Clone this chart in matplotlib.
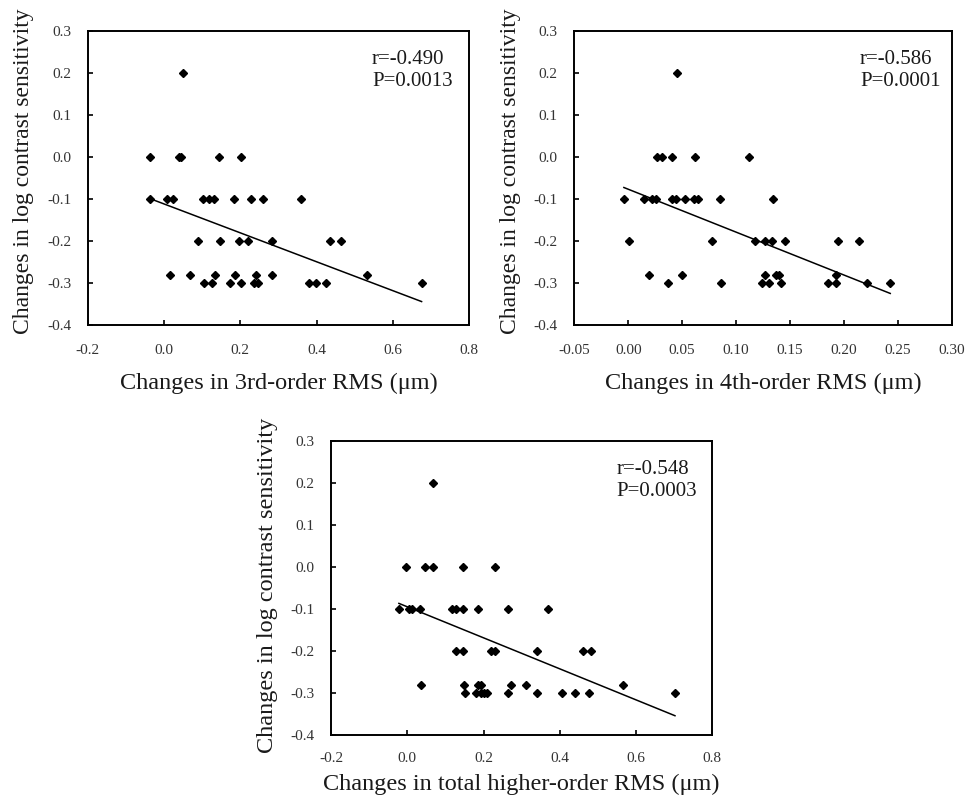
import matplotlib
matplotlib.use("Agg")
import matplotlib.pyplot as plt
import numpy as np
from matplotlib.ticker import FormatStrFormatter

plt.rcParams['font.family'] = ['Liberation Serif', 'DejaVu Serif']
plt.rcParams['axes.unicode_minus'] = False

# ---------------- datos ----------------
# panel 1: 3rd-order RMS
x_3rd = [0.051,
         -0.038, 0.040, 0.044, 0.143, 0.201,
         -0.037, 0.009, 0.024, 0.103, 0.117, 0.131, 0.183, 0.228, 0.259, 0.360,
         0.090, 0.147, 0.196, 0.219, 0.282, 0.435, 0.465,
         0.016, 0.068, 0.133, 0.185, 0.241, 0.282, 0.531,
         0.105, 0.125, 0.174, 0.201, 0.235, 0.247, 0.379, 0.397, 0.425, 0.675]
y_3rd = [0.20,
         0.0, 0.0, 0.0, 0.0, 0.0,
         -0.1, -0.1, -0.1, -0.1, -0.1, -0.1, -0.1, -0.1, -0.1, -0.1,
         -0.2, -0.2, -0.2, -0.2, -0.2, -0.2, -0.2,
         -0.28, -0.28, -0.28, -0.28, -0.28, -0.28, -0.28,
         -0.3, -0.3, -0.3, -0.3, -0.3, -0.3, -0.3, -0.3, -0.3, -0.3]

# panel 2: 4th-order RMS
x_4th = [0.045,
         0.027, 0.031, 0.041, 0.062, 0.112,
         -0.004, 0.015, 0.022, 0.026, 0.041, 0.044, 0.053, 0.061, 0.065, 0.085, 0.134,
         0.001, 0.078, 0.118, 0.127, 0.133, 0.145, 0.195, 0.214,
         0.019, 0.050, 0.127, 0.137, 0.140, 0.193,
         0.037, 0.086, 0.124, 0.131, 0.142, 0.185, 0.193, 0.221, 0.243]
y_4th = [0.20,
         0.0, 0.0, 0.0, 0.0, 0.0,
         -0.1, -0.1, -0.1, -0.1, -0.1, -0.1, -0.1, -0.1, -0.1, -0.1, -0.1,
         -0.2, -0.2, -0.2, -0.2, -0.2, -0.2, -0.2, -0.2,
         -0.28, -0.28, -0.28, -0.28, -0.28, -0.28,
         -0.3, -0.3, -0.3, -0.3, -0.3, -0.3, -0.3, -0.3, -0.3]

# panel 3: total higher-order RMS
x_total = [0.067,
           -0.003, 0.046, 0.067, 0.146, 0.229,
           -0.022, 0.004, 0.013, 0.033, 0.117, 0.128, 0.146, 0.185, 0.264, 0.370,
           0.129, 0.145, 0.220, 0.231, 0.341, 0.460, 0.482,
           0.035, 0.148, 0.185, 0.192, 0.271, 0.312, 0.565,
           0.152, 0.179, 0.192, 0.200, 0.208, 0.265, 0.340, 0.406, 0.440, 0.476, 0.702]
y_total = [0.20,
           0.0, 0.0, 0.0, 0.0, 0.0,
           -0.1, -0.1, -0.1, -0.1, -0.1, -0.1, -0.1, -0.1, -0.1, -0.1,
           -0.2, -0.2, -0.2, -0.2, -0.2, -0.2, -0.2,
           -0.28, -0.28, -0.28, -0.28, -0.28, -0.28, -0.28,
           -0.3, -0.3, -0.3, -0.3, -0.3, -0.3, -0.3, -0.3, -0.3, -0.3, -0.3]

# rectas de regresion (pendiente, ordenada)
ajuste = [(-0.344, -0.112), (-1.02, -0.077), (-0.369, -0.095)]
textos = ["r=-0.490\nP=0.0013", "r=-0.586\nP=0.0001", "r=-0.548\nP=0.0003"]
etiquetas_x = ["Changes in 3rd-order RMS (\u03bcm)",
               "Changes in 4th-order RMS (\u03bcm)",
               "Changes in total higher-order RMS (\u03bcm)"]
etiqueta_y = "Changes in log contrast sensitivity"

xticks_1 = [-0.2, 0.0, 0.2, 0.4, 0.6, 0.8]
xticks_2 = [-0.05, 0.00, 0.05, 0.10, 0.15, 0.20, 0.25, 0.30]
yticks = [-0.4, -0.3, -0.2, -0.1, 0.0, 0.1, 0.2, 0.3]

# ---------------- figura ----------------
fig = plt.figure(figsize=(9.66, 7.98), dpi=100)
ax1 = fig.add_axes([0.0908, 0.5927, 0.3950, 0.3688])
ax2 = fig.add_axes([0.5945, 0.5927, 0.3907, 0.3688])
ax3 = fig.add_axes([0.3427, 0.0789, 0.3947, 0.3688])

# (eje, x, y, xticks, formato, x del texto, labelpad x, pad ticks x, y de ylabel, tamaño ylabel)
paneles = [
    (ax1, x_3rd, y_3rd, xticks_1, "%.1f", 0.745, 11, 14, 0.524, 17),
    (ax2, x_4th, y_4th, xticks_2, "%.2f", 0.757, 11, 14, 0.524, 17),
    (ax3, x_total, y_total, xticks_1, "%.1f", 0.749, 6, 12.5, 0.508, 17.5),
]

for i, (ax, xs, ys, xt, fmt, tx, lpad, xpad, ly, lsize) in enumerate(paneles):
    ax.plot(xs, ys, linestyle="none", marker="D", markersize=4.4,
            color="black", zorder=3)
    m, b = ajuste[i]
    xl = np.array([min(xs), max(xs)])
    ax.plot(xl, m * xl + b, color="black", linewidth=1.1, zorder=2)

    ax.set_xlim(xt[0], xt[-1])
    ax.set_ylim(-0.4, 0.3)
    ax.set_xticks(xt)
    ax.set_yticks(yticks)
    ax.xaxis.set_major_formatter(FormatStrFormatter(fmt))
    ax.yaxis.set_major_formatter(FormatStrFormatter("%.1f"))
    ax.tick_params(axis="x", direction="in", length=3.5, width=1.2,
                   labelsize=11, pad=xpad, top=False, labelcolor="#333333")
    ax.tick_params(axis="y", direction="in", length=3.5, width=1.2,
                   labelsize=11, pad=12, right=False, labelcolor="#333333")
    for s in ax.spines.values():
        s.set_linewidth(1.4)

    ax.set_xlabel(etiquetas_x[i], fontsize=17.5, labelpad=lpad, color="#1a1a1a")
    ax.set_ylabel(etiqueta_y, fontsize=lsize, labelpad=9, color="#1a1a1a")
    ax.yaxis.label.set_y(ly)

    ax.text(tx, 0.935, textos[i], transform=ax.transAxes, fontsize=15,
            va="top", ha="left", linespacing=1.2, color="#1a1a1a")

fig.savefig("out.png", dpi=100)
